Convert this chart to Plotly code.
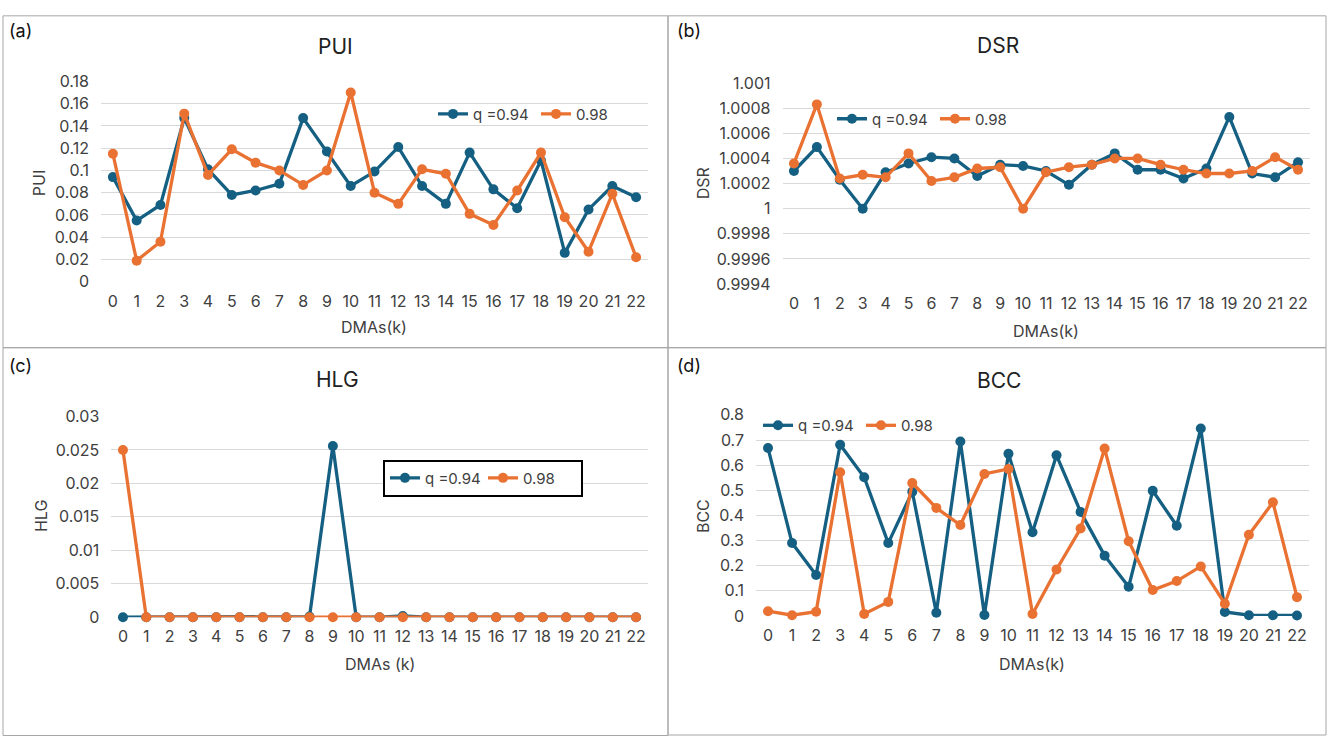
import plotly.graph_objects as go

W, H = 1329, 746

# ---------------- data ----------------
dmas = list(range(23))
dma_labels = [str(i) for i in dmas]
series_names = ["q =0.94", "0.98"]

pui_q094 = [0.094, 0.055, 0.069, 0.147, 0.101, 0.078, 0.082, 0.088, 0.147, 0.117, 0.086, 0.099,
            0.121, 0.086, 0.070, 0.116, 0.083, 0.066, 0.109, 0.026, 0.065, 0.086, 0.076]
pui_q098 = [0.115, 0.019, 0.036, 0.151, 0.096, 0.119, 0.107, 0.100, 0.087, 0.100, 0.170, 0.080,
            0.070, 0.101, 0.097, 0.061, 0.051, 0.082, 0.116, 0.058, 0.027, 0.079, 0.022]

dsr_q094 = [1.00030, 1.00049, 1.00023, 1.00000, 1.00029, 1.00036, 1.00041, 1.00040, 1.00026, 1.00035,
            1.00034, 1.00030, 1.00019, 1.00035, 1.00044, 1.00031, 1.00031, 1.00024, 1.00032, 1.00073,
            1.00028, 1.00025, 1.00037]
dsr_q098 = [1.00036, 1.00083, 1.00024, 1.00027, 1.00025, 1.00044, 1.00022, 1.00025, 1.00032, 1.00033,
            1.00000, 1.00029, 1.00033, 1.00035, 1.00040, 1.00040, 1.00035, 1.00031, 1.00028, 1.00028,
            1.00030, 1.00041, 1.00031]

hlg_q094 = [0, 0, 0, 0, 0, 0, 0, 0, 0.0001, 0.0256, 0, 0, 0.0002, 0, 0, 0, 0, 0, 0, 0, 0, 0, 0]
hlg_q098 = [0.025, 0, 0, 0, 0, 0, 0, 0, 0, 0, 0, 0, 0, 0, 0, 0, 0, 0, 0, 0, 0, 0, 0]

bcc_q094 = [0.668, 0.290, 0.163, 0.681, 0.552, 0.290, 0.494, 0.013, 0.694, 0.004, 0.645, 0.333,
            0.639, 0.414, 0.240, 0.116, 0.498, 0.359, 0.746, 0.016, 0.003, 0.003, 0.002]
bcc_q098 = [0.019, 0.003, 0.017, 0.572, 0.008, 0.056, 0.529, 0.430, 0.362, 0.565, 0.585, 0.008,
            0.185, 0.348, 0.666, 0.297, 0.103, 0.139, 0.197, 0.049, 0.323, 0.452, 0.075]

pui_ticks = [round(i * 0.02, 4) for i in range(10)]
dsr_ticks = [round(0.9994 + i * 0.0002, 6) for i in range(9)]
hlg_ticks = [round(i * 0.005, 4) for i in range(7)]
bcc_ticks = [round(i * 0.1, 3) for i in range(9)]

# ---------------- style ----------------
BLUE = "#156082"
ORANGE = "#E97132"
GRID = "#d9d9d9"
FONT = "Inter"
TXT = "#404040"
TICK_SIZE = 16
LEG_SIZE = 15


def px(x):
    return x / W


def py(y):
    return 1 - y / H


panels = [
    dict(title="PUI", ylab="PUI", xlab="DMAs(k)", ticks=pui_ticks, a=pui_q094, b=pui_q098,
         x0=101, x1=648, ytop=73.3, ybot=279.3),
    dict(title="DSR", ylab="DSR", xlab="DMAs(k)", ticks=dsr_ticks, a=dsr_q094, b=dsr_q098,
         x0=782.5, x1=1309.5, ytop=75, ybot=281.7),
    dict(title="HLG", ylab="HLG", xlab="DMAs (k)", ticks=hlg_ticks, a=hlg_q094, b=hlg_q098,
         x0=111.3, x1=647.7, ytop=417.7, ybot=624),
    dict(title="BCC", ylab="BCC", xlab="DMAs(k)", ticks=bcc_ticks, a=bcc_q094, b=bcc_q098,
         x0=756, x1=1309, ytop=416, ybot=622.7),
]

fig = go.Figure()
layout = dict(
    width=W, height=H, margin=dict(l=0, r=0, t=0, b=0),
    paper_bgcolor="white", plot_bgcolor="white",
    font=dict(family=FONT, size=TICK_SIZE, color=TXT),
)

annotations = []
shapes = []

for i, p in enumerate(panels):
    n = "" if i == 0 else str(i + 1)
    xa, ya = "xaxis" + n, "yaxis" + n
    xr, yr = "x" + n, "y" + n
    leg = "legend" + n
    t = p["ticks"]
    span = t[-1] - t[0]
    layout[xa] = dict(
        domain=[px(p["x0"]), px(p["x1"])], anchor=yr,
        range=[-0.5, 22.5], tickmode="array", tickvals=dmas, ticktext=dma_labels,
        showgrid=False, zeroline=False, showline=False, ticks="",
        ticklabelstandoff=8, tickfont=dict(size=TICK_SIZE, color=TXT),
    )
    layout[ya] = dict(
        domain=[py(p["ybot"]), py(p["ytop"])], anchor=xr,
        range=[t[0] - span * 1e-4, t[-1] + span * 1e-4],
        tickmode="array", tickvals=t, ticktext=[f"{v:g}" for v in t],
        showgrid=True, gridcolor=GRID, gridwidth=1,
        zeroline=False, showline=False, ticks="",
        ticklabelstandoff=11, tickfont=dict(size=TICK_SIZE, color=TXT),
    )
    for name, vals, col in [(series_names[0], p["a"], BLUE), (series_names[1], p["b"], ORANGE)]:
        fig.add_trace(go.Scatter(
            x=dmas, y=vals, name=name, mode="lines+markers",
            line=dict(color=col, width=3.3), marker=dict(color=col, size=10),
            xaxis=xr, yaxis=yr, legend=leg, cliponaxis=False,
        ))

# legends (horizontal, Excel-like)
leg_common = dict(orientation="h", xanchor="left", yanchor="middle", bgcolor="rgba(0,0,0,0)",
                  font=dict(size=LEG_SIZE, color=TXT), itemwidth=30, tracegroupgap=0,
                  entrywidth=58, entrywidthmode="pixels")
layout["legend"] = dict(leg_common, x=px(433), y=py(107))
layout["legend2"] = dict(leg_common, x=px(832), y=py(112))
layout["legend3"] = dict(leg_common, x=px(383), y=py(481), bordercolor="black", borderwidth=2,
                         bgcolor="white", entrywidth=53)
layout["legend4"] = dict(leg_common, x=px(758), y=py(427))

# panel titles, tags, axis titles
title_pos = [(335, 37), (998, 36), (337, 380), (999, 381)]
tags = ["(a)", "(b)", "(c)", "(d)"]
tag_pos = [(7, 21), (675, 21), (7, 365), (675, 365)]
ylab_pos = [(39, 178), (703, 178), (41, 520), (703, 520)]
xlab_pos = [(374, 326), (1046, 330), (380, 672), (1032, 672)]

for i, p in enumerate(panels):
    annotations.append(dict(text=p["title"], x=px(title_pos[i][0]), y=py(title_pos[i][1]),
                            xref="paper", yref="paper", showarrow=False, xanchor="center",
                            yanchor="middle", font=dict(size=21, color="#222")))
    annotations.append(dict(text=tags[i], x=px(tag_pos[i][0]), y=py(tag_pos[i][1]),
                            xref="paper", yref="paper", showarrow=False, xanchor="left",
                            yanchor="middle", font=dict(size=18, color="#111")))
    annotations.append(dict(text=p["ylab"], x=px(ylab_pos[i][0]), y=py(ylab_pos[i][1]),
                            xref="paper", yref="paper", showarrow=False, textangle=-90,
                            xanchor="center", yanchor="middle", font=dict(size=16, color=TXT)))
    annotations.append(dict(text=p["xlab"], x=px(xlab_pos[i][0]), y=py(xlab_pos[i][1]),
                            xref="paper", yref="paper", showarrow=False,
                            xanchor="center", yanchor="middle", font=dict(size=16, color=TXT)))

# panel borders
boxes = [(3, 6, 668, 347), (668, 6, 1326, 347), (3, 347, 668, 745.5), (668, 347, 1326, 745)]
for (x0, y0, x1, y1) in boxes:
    shapes.append(dict(type="rect", xref="paper", yref="paper",
                       x0=px(x0), x1=px(x1), y0=py(y1), y1=py(y0),
                       line=dict(color="#a6a6a6", width=1),
                       fillcolor="rgba(0,0,0,0)", layer="below"))

layout["annotations"] = annotations
layout["shapes"] = shapes
fig.update_layout(**layout)

# pin the figure to the window's top-left corner (no default page margin)
pin_js = """
document.documentElement.style.margin = '0';
document.documentElement.style.overflow = 'hidden';
document.body.style.margin = '0';
document.body.style.overflow = 'hidden';
var gd = document.getElementById('{plot_id}');
gd.style.position = 'fixed';
gd.style.left = '0px';
gd.style.top = '0px';
"""
fig.write_html("out.html", post_script=pin_js, config={"displayModeBar": False})
